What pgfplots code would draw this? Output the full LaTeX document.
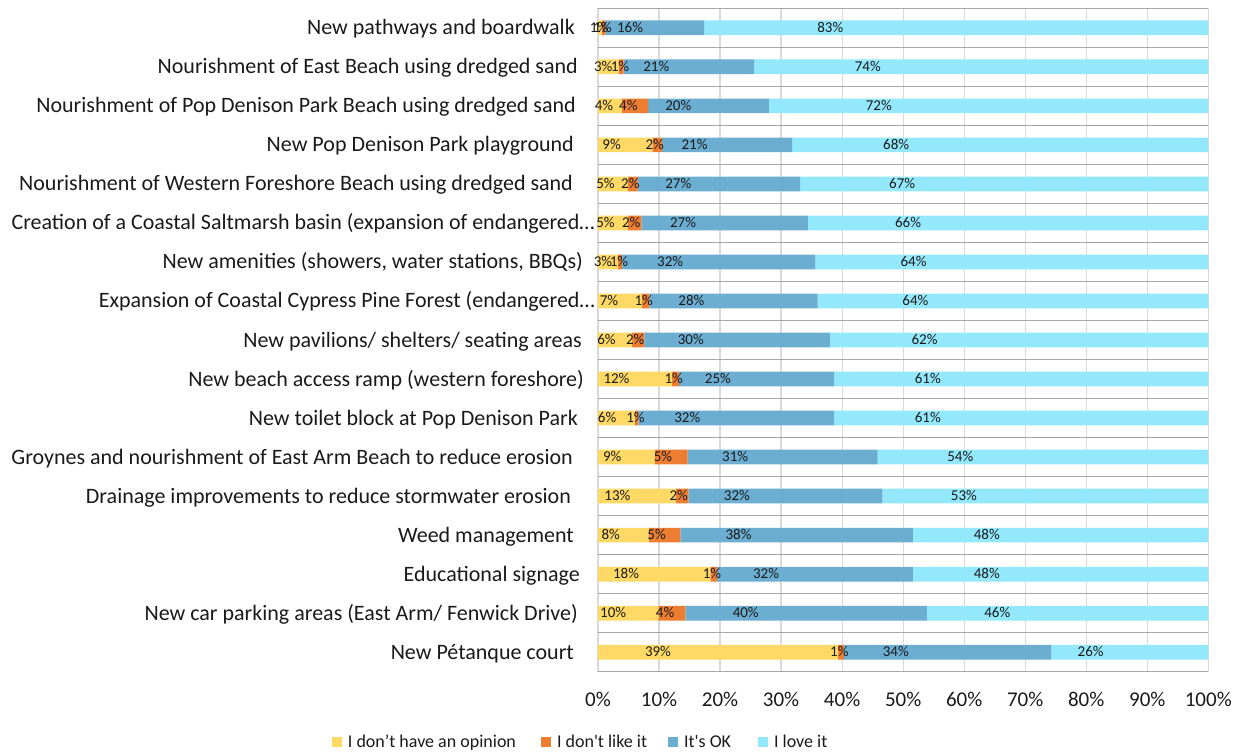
\documentclass[border=0pt]{standalone}
\usepackage{pgfplots}
\pgfplotsset{compat=1.18}
\usepackage{pgfplotstable}
\usepackage{fontspec}
\setmainfont{Carlito}

\definecolor{cNone}{HTML}{FFD966}
\definecolor{cDislike}{HTML}{ED7D31}
\definecolor{cOK}{HTML}{6BAED1}
\definecolor{cLove}{HTML}{93E8FC}
\definecolor{gridlight}{HTML}{D9D9D9}
\definecolor{griddark}{HTML}{A6A6A6}
\definecolor{txt}{HTML}{1A1A1A}

% Share of responses (%) per project, top row first
\pgfplotstableread{
row none dislike ok   love
0   0.6  0.6     16.2 82.6
1   3.4  0.8     21.4 74.4
2   3.9  4.3     19.8 72.0
3   8.9  1.6     21.3 68.2
4   4.9  1.6     26.6 66.9
5   4.9  2.2     27.3 65.6
6   3.3  0.6     31.7 64.4
7   7.2  1.2     27.6 64.0
8   5.6  2.0     30.4 62.0
9   12.1 1.2     25.4 61.3
10  6.0  0.6     32.1 61.3
11  9.3  5.4     31.1 54.2
12  12.7 2.1     31.8 53.4
13  8.3  5.2     38.1 48.4
14  18.4 1.1     32.1 48.4
15  9.9  4.4     39.6 46.1
16  39.3 1.0     34.0 25.7
}\survey

% one stacked segment: colour and table column
\pgfplotsset{
  seg/.style 2 args={
    fill=#1, draw=none,
    visualization depends on={\thisrow{#2} \as \rawx},
    legend image code/.code={\fill[#1] (0pt,-5pt) rectangle (10pt,5pt);},
  },
}

\begin{document}
\begin{tikzpicture}
\path[use as bounding box] (0,0) rectangle (1248pt,753pt);
\begin{axis}[
  at={(598pt,81.3pt)}, anchor=south west,
  scale only axis, width=610.3pt, height=663.4pt,
  xbar stacked, bar width=0.377,
  y dir=reverse,
  xmin=0, xmax=100, ymin=-0.5, ymax=16.5,
  axis line style={draw=none},
  major tick length=0pt, minor tick length=0pt,
  xtick={0,10,...,100},
  xticklabels={0\%,10\%,20\%,30\%,40\%,50\%,60\%,70\%,80\%,90\%,100\%},
  xmajorgrids, major grid style={gridlight, line width=1.2pt},
  minor ytick={-0.5,0.5,...,16.5}, yminorgrids,
  minor grid style={griddark, line width=1.3pt},
  ytick={0,...,16},
  yticklabels={
    {New pathways and boardwalk\hspace*{9pt}},
    {Nourishment of East Beach using dredged sand\hspace*{6pt}},
    {Nourishment of Pop Denison Park Beach using dredged sand\hspace*{8pt}},
    {New Pop Denison Park playground\hspace*{10pt}},
    {Nourishment of Western Foreshore Beach using dredged sand\hspace*{11pt}},
    {Creation of a Coastal Saltmarsh basin (expansion of endangered…\hspace*{-11pt}},
    {New amenities (showers, water stations, BBQs)\hspace*{1pt}},
    {Expansion of Coastal Cypress Pine Forest (endangered…\hspace*{-11pt}},
    {New pavilions/ shelters/ seating areas\hspace*{2pt}},
    {New beach access ramp (western foreshore)},
    {New toilet block at Pop Denison Park\hspace*{6pt}},
    {Groynes and nourishment of East Arm Beach to reduce erosion\hspace*{11pt}},
    {Drainage improvements to reduce stormwater erosion\hspace*{13pt}},
    {Weed management\hspace*{10pt}},
    {Educational signage\hspace*{4pt}},
    {New car parking areas (East Arm/ Fenwick Drive)\hspace*{6pt}},
    {New Pétanque court\hspace*{10pt}},
  },
  yticklabel style={anchor=base east, inner sep=0pt, xshift=-14pt, yshift=-7pt,
    font=\fontsize{22}{26}\selectfont, text=txt},
  xticklabel style={anchor=base, inner sep=0pt, yshift=-35pt,
    font=\fontsize{21}{25}\selectfont, text=txt},
  /pgf/number format/assume math mode=true,
  point meta=explicit,
  nodes near coords={\pgfmathprintnumber[fixed,precision=0]{\pgfplotspointmeta}\%},
  % the node style is applied twice, so a quarter of the segment
  % (6.103pt per percent) moves each label back to its middle
  every node near coord/.append style={
    font=\fontsize{15}{17}\selectfont, text=txt, inner sep=0pt,
    anchor=center, text height=9.4pt, text depth=0pt,
    xshift={-1.525pt*\rawx}},
  legend columns=4,
  legend style={at={(-0.436,-0.106)}, anchor=west, draw=none, fill=none,
    inner sep=0pt, outer sep=0pt, nodes={inner sep=0pt, text=txt},
    font=\fontsize{18}{21}\selectfont,
    /tikz/every odd column/.append style={column sep=6pt},
    /tikz/every even column/.append style={column sep=25pt}},
]
\addplot[seg={cNone}{none}]       table[x=none,    y=row, meta=none]    {\survey};
\addplot[seg={cDislike}{dislike}] table[x=dislike, y=row, meta=dislike] {\survey};
\addplot[seg={cOK}{ok}]           table[x=ok,      y=row, meta=ok]      {\survey};
\addplot[seg={cLove}{love}]       table[x=love,    y=row, meta=love]    {\survey};
\legend{I don’t have an opinion, I don\textquotesingle t like it\hspace*{-4pt}, It\textquotesingle s OK\hspace*{2pt}, I love it}
\end{axis}
\end{tikzpicture}
\end{document}
